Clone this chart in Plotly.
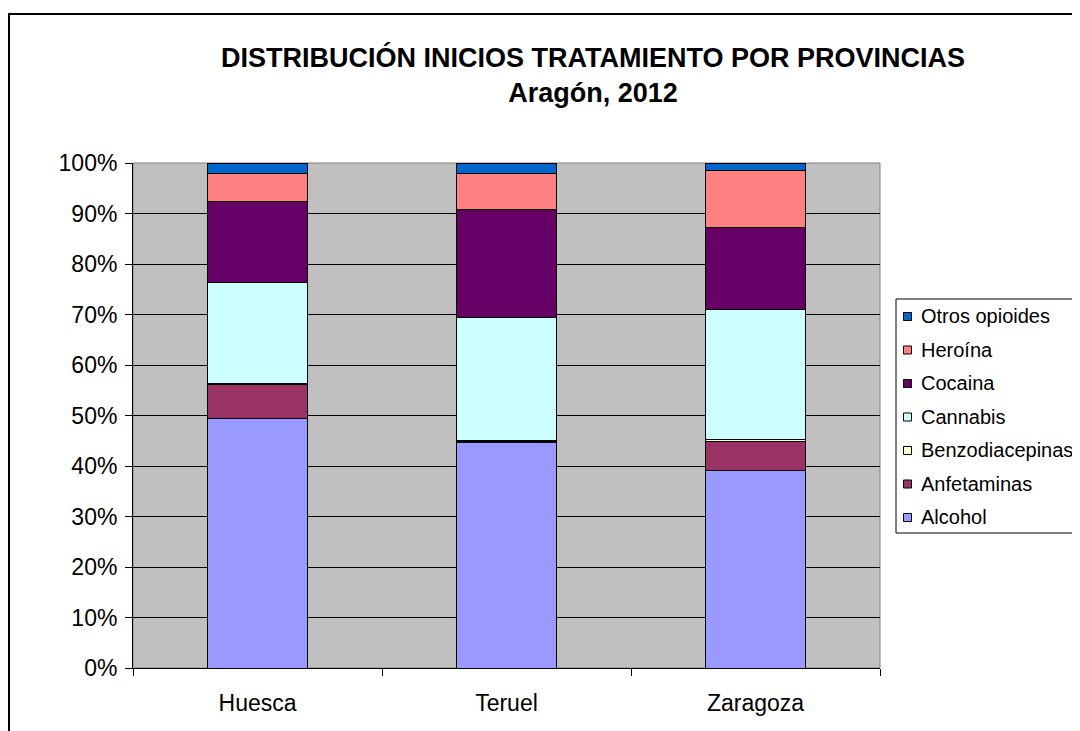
import plotly.graph_objects as go

provincias = ["Huesca", "Teruel", "Zaragoza"]
series = ["Alcohol", "Anfetaminas", "Benzodiacepinas", "Cannabis", "Cocaina", "Heroína", "Otros opioides"]
valores = {
    "Alcohol":         [49.5, 44.6, 39.2],
    "Anfetaminas":     [6.7, 0.2, 5.7],
    "Benzodiacepinas": [0.2, 0.2, 0.4],
    "Cannabis":        [20.0, 24.4, 25.7],
    "Cocaina":         [15.9, 21.3, 16.3],
    "Heroína":         [5.6, 7.3, 11.3],
    "Otros opioides":  [2.1, 2.0, 1.4],
}
colores = {
    "Alcohol": "#9999FF",
    "Anfetaminas": "#993366",
    "Benzodiacepinas": "#FFFFCC",
    "Cannabis": "#CCFFFF",
    "Cocaina": "#660066",
    "Heroína": "#FF8080",
    "Otros opioides": "#0066CC",
}
yticks = list(range(0, 101, 10))
ytick_labels = [f"{v}%" for v in yticks]
titulo = "<b>DISTRIBUCIÓN INICIOS TRATAMIENTO POR PROVINCIAS<br>Aragón, 2012</b>"

# the page body has an 8px margin: work in figure px = screen px - 8
OFF = 8
W, H = 1080 - OFF, 731 - OFF
L, R, T, B = 133 - OFF, 880 - OFF, 163 - OFF, 668 - OFF
FONT = "Liberation Sans, Arial, sans-serif"
FS_AXIS = 23
FS_LEG = 20

def px(x):
    return (x - OFF - L) / (R - L)

def py(y):
    return (B - (y - OFF)) / (B - T)

fig = go.Figure()
for s in series:
    fig.add_trace(go.Bar(
        x=provincias, y=valores[s], name=s,
        marker=dict(color=colores[s], line=dict(color="black", width=1)),
        showlegend=False,
    ))

shapes = []
annotations = []
# outer chart border (screen coords)
shapes.append(dict(type="rect", xref="paper", yref="paper",
                   x0=px(9), x1=px(1110), y0=py(14), y1=py(770),
                   line=dict(color="black", width=2), fillcolor="rgba(0,0,0,0)", layer="above"))
# plot area border
shapes.append(dict(type="rect", xref="paper", yref="paper", x0=0, x1=1, y0=0, y1=1,
                   line=dict(color="#808080", width=1), layer="below"))
# legend box
shapes.append(dict(type="rect", xref="paper", yref="paper",
                   x0=px(896), x1=px(1110), y0=py(299), y1=py(533),
                   line=dict(color="black", width=1), fillcolor="white", layer="above"))
legend_order = list(reversed(series))
for i, s in enumerate(legend_order):
    cy = 316 + i * 33.5
    shapes.append(dict(type="rect", xref="paper", yref="paper",
                       x0=px(903.5), x1=px(911.5), y0=py(cy + 4.5), y1=py(cy - 3.5),
                       line=dict(color="black", width=1), fillcolor=colores[s], layer="above"))
    annotations.append(dict(xref="paper", yref="paper", x=px(919), y=py(cy),
                            xanchor="left", yanchor="middle", showarrow=False,
                            text=s, font=dict(family=FONT, size=FS_LEG, color="black")))
annotations.append(dict(xref="paper", yref="paper", x=px(593), y=py(75),
                        xanchor="center", yanchor="middle", showarrow=False,
                        text=titulo, font=dict(family=FONT, size=27, color="black")))

fig.update_layout(
    width=W, height=H,
    margin=dict(l=L, r=W - R, t=T, b=H - B, pad=0),
    paper_bgcolor="white", plot_bgcolor="#C0C0C0",
    barmode="stack", bargap=0.6,
    font=dict(family=FONT, size=FS_AXIS, color="black"),
    xaxis=dict(showline=True, linecolor="black", linewidth=1, ticks="outside",
               tickson="boundaries", ticklen=7, tickcolor="black", showgrid=False,
               ticklabelstandoff=14,
               tickfont=dict(family=FONT, size=FS_AXIS, color="black")),
    yaxis=dict(range=[0, 100], tickvals=yticks, ticktext=ytick_labels,
               showline=True, linecolor="black", linewidth=1, ticks="outside",
               ticklen=7, tickcolor="black", showgrid=True, gridcolor="black",
               gridwidth=1, zeroline=False, ticklabelstandoff=3,
               tickfont=dict(family=FONT, size=FS_AXIS, color="black")),
    shapes=shapes, annotations=annotations,
)

fig.write_html("out.html")
